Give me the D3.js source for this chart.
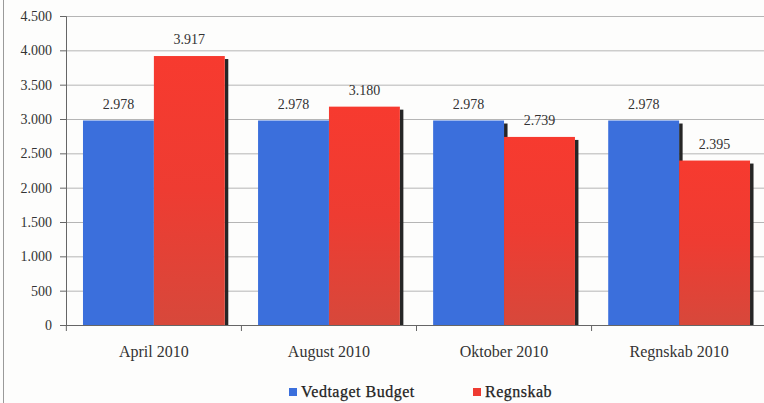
<!DOCTYPE html>
<html><head><meta charset="utf-8">
<script src="https://cdn.jsdelivr.net/npm/d3@7"></script>
<style>body{margin:0;background:#fff}svg{display:block}</style>
</head><body><svg id="c" width="764" height="403"></svg>
<script>
const categories = ["April 2010","August 2010","Oktober 2010","Regnskab 2010"];
const seriesNames = ["Vedtaget Budget","Regnskab"];
const budget = [2978,2978,2978,2978];
const regnskab = [3917,3180,2739,2395];
const tickValues = [0,500,1000,1500,2000,2500,3000,3500,4000,4500];
const colors = ["#3b6fdc","#ef3b32"];

const FONT = "'Liberation Serif', 'DejaVu Serif', serif";
const svg = d3.select("#c").attr("font-family", FONT);
const m = {l:66,r:767,t:16,b:325};
const fmt = v => d3.format(",")(v).replace(/,/g,".");
const x0 = d3.scaleBand().domain(categories).range([m.l,m.r]).paddingInner(0.19).paddingOuter(0.097);
const x1 = d3.scaleBand().domain(seriesNames).range([0,x0.bandwidth()]);
const y = d3.scaleLinear().domain([0,4500]).range([m.b,m.t]);

svg.append("rect").attr("width",764).attr("height",403).attr("fill","#fdfdfc");
svg.append("line").attr("x1",3.5).attr("x2",3.5).attr("y1",0).attr("y2",403).attr("stroke","#9a9a9a");

const defs = svg.append("defs");
const gr = defs.append("linearGradient").attr("id","gr").attr("x1",0).attr("y1",0).attr("x2",0).attr("y2",1);
gr.append("stop").attr("offset","0").attr("stop-color","#f73a2f");
gr.append("stop").attr("offset","0.5").attr("stop-color","#ee3c32");
gr.append("stop").attr("offset","1").attr("stop-color","#d7483b");

svg.append("g").selectAll("line").data(tickValues).join("line")
  .attr("x1",m.l).attr("x2",764).attr("y1",d=>y(d)+0.5).attr("y2",d=>y(d)+0.5)
  .attr("stroke","#b5b5b5").attr("stroke-width",1);

const ax = svg.append("g").attr("transform",`translate(${m.l},0)`)
  .call(d3.axisLeft(y).tickValues(tickValues).tickFormat(fmt).tickSize(6).tickPadding(8));
ax.attr("font-family",FONT).attr("font-size",14);
ax.select(".domain").attr("stroke","#666");
ax.selectAll(".tick line").attr("stroke","#666");
ax.selectAll("text").attr("fill","#333");

const data = categories.map((c,i)=>({c, vals:[budget[i],regnskab[i]]}));
const g = svg.append("g");
data.forEach(d=>{
  d.vals.forEach((v,j)=>{
    const xx = x0(d.c)+x1(seriesNames[j]);
    const w = x1.bandwidth();
    g.append("rect").attr("x",xx+w).attr("y",y(v)+3).attr("width",3.5).attr("height",y(0)-y(v)-3).attr("fill","#262626");
    g.append("rect").attr("x",xx).attr("y",y(v)).attr("width",w).attr("height",y(0)-y(v))
      .attr("fill",j===0?colors[0]:"url(#gr)");
  });
});
data.forEach(d=>{
  d.vals.forEach((v,j)=>{
    const xx = x0(d.c)+x1(seriesNames[j]);
    const w = x1.bandwidth();
    g.append("text").attr("x",xx+w/2).attr("y",y(v)-12).attr("text-anchor","middle")
      .attr("font-size",14).attr("fill","#333").text(fmt(v));
  });
});

svg.append("line").attr("x1",m.l).attr("x2",764).attr("y1",y(0)+0.5).attr("y2",y(0)+0.5).attr("stroke","#666");
const step = x0.step();
svg.append("g").selectAll("line").data(categories).join("line")
  .attr("x1",d=>x0(d)-x0.paddingInner()*step/2).attr("x2",d=>x0(d)-x0.paddingInner()*step/2)
  .attr("y1",y(0)).attr("y2",y(0)+6).attr("stroke","#666");

svg.append("g").selectAll("text").data(categories).join("text")
  .attr("x",d=>x0(d)+x0.bandwidth()/2).attr("y",357).attr("text-anchor","middle")
  .attr("font-size",16).attr("fill","#333").text(d=>d);

const lx = [289,473];
seriesNames.forEach((s,j)=>{
  svg.append("rect").attr("x",lx[j]).attr("y",388).attr("width",8).attr("height",8).attr("fill",colors[j]);
  svg.append("text").attr("x",lx[j]+12).attr("y",397).attr("font-size",16)
    .attr("letter-spacing","0.5px").attr("stroke","#222").attr("stroke-width",0.25)
    .attr("fill","#222").text(s);
});
</script></body></html>
